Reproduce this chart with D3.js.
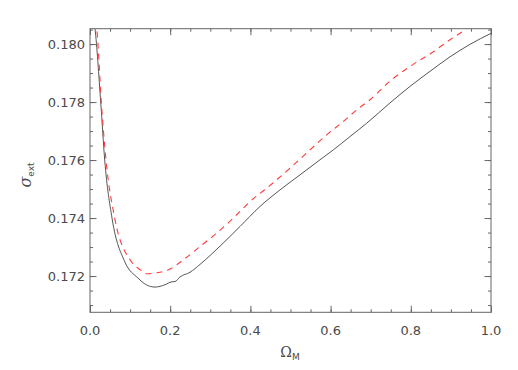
<!DOCTYPE html>
<html><head><meta charset="utf-8">
<script src="https://cdn.jsdelivr.net/npm/d3@7"></script>
<style>body{margin:0;background:#fff}svg{display:block}text{font-family:"DejaVu Sans",sans-serif;fill:#4a4a4a}</style>
</head><body><svg id="c" width="518" height="370"></svg>
<script>
const xTicks = [0.0, 0.2, 0.4, 0.6, 0.8, 1.0];
const xTickLabels = ["0.0", "0.2", "0.4", "0.6", "0.8", "1.0"];
const yTicks = [0.172, 0.174, 0.176, 0.178, 0.180];
const yTickLabels = ["0.172", "0.174", "0.176", "0.178", "0.180"];
const xMinor = d3.range(0, 1.0001, 0.05);
const yMinor = d3.range(0.1710, 0.18051, 0.0005);

const solidX = [0.010, 0.0125, 0.0267, 0.0367, 0.0549, 0.0865, 0.1197, 0.1404, 0.1621, 0.1870, 0.2037, 0.2120, 0.2244, 0.2494, 0.2743, 0.3035, 0.3242, 0.3741, 0.4239, 0.4738, 0.5237, 0.5736, 0.6067, 0.6484, 0.6900, 0.7481, 0.7980, 0.8479, 0.8978, 0.9476, 1.0];
const solidY = [0.1808, 0.18053, 0.1780, 0.1760, 0.1740, 0.17250, 0.17193, 0.17170, 0.17162, 0.17170, 0.17180, 0.17181, 0.17197, 0.17213, 0.17240, 0.17276, 0.17303, 0.17371, 0.17440, 0.17497, 0.17549, 0.17601, 0.17635, 0.17681, 0.17727, 0.17797, 0.17854, 0.17906, 0.17956, 0.17999, 0.18037];
const dashX = [0.013, 0.0167, 0.0282, 0.0399, 0.0616, 0.1030, 0.1247, 0.1414, 0.1746, 0.1995, 0.2327, 0.2743, 0.3160, 0.3574, 0.3990, 0.4406, 0.4988, 0.5486, 0.5903, 0.6317, 0.6651, 0.6983, 0.7481, 0.7980, 0.8479, 0.8978, 0.9394, 0.97];
const dashY = [0.1808, 0.18053, 0.1780, 0.1760, 0.1740, 0.17250, 0.17222, 0.17208, 0.17213, 0.17224, 0.17256, 0.17302, 0.17348, 0.17400, 0.17457, 0.17503, 0.17572, 0.17635, 0.17687, 0.17733, 0.17773, 0.17808, 0.17872, 0.17923, 0.17966, 0.18015, 0.18055, 0.1810];

const L = 90, R = 491, T = 28.7, B = 312.3;
const x = d3.scaleLinear().domain([0, 1]).range([L, R]);
const y = d3.scaleLinear().domain([0.17075, 0.18053]).range([B, T]);
const svg = d3.select("#c");
const axisCol = "#666";

svg.append("defs").append("clipPath").attr("id", "clip")
  .append("rect").attr("x", L).attr("y", T).attr("width", R - L).attr("height", B - T);

const g = svg.append("g").attr("clip-path", "url(#clip)");
const line = d3.line().x(d => x(d[0])).y(d => y(d[1])).curve(d3.curveMonotoneX);
g.append("path").datum(solidX.map((v, i) => [v, solidY[i]]))
  .attr("d", line).attr("fill", "none").attr("stroke", "#555").attr("stroke-width", 1);
g.append("path").datum(dashX.map((v, i) => [v, dashY[i]]))
  .attr("d", line).attr("fill", "none").attr("stroke", "#ff3b3b").attr("stroke-width", 1.1)
  .attr("stroke-dasharray", "6,5");

// frame
svg.append("rect").attr("x", L).attr("y", T).attr("width", R - L).attr("height", B - T)
  .attr("fill", "none").attr("stroke", axisCol).attr("stroke-width", 1);

function ticks(axisGen, transform, size, vals) {
  const a = svg.append("g").attr("transform", transform)
    .call(axisGen.tickValues(vals).tickSize(size).tickFormat(""));
  a.select(".domain").remove();
  a.selectAll("line").attr("stroke", axisCol);
}
ticks(d3.axisBottom(x), `translate(0,${B})`, -3, xMinor);
ticks(d3.axisBottom(x), `translate(0,${B})`, -6.5, xTicks);
ticks(d3.axisTop(x), `translate(0,${T})`, -3, xMinor);
ticks(d3.axisTop(x), `translate(0,${T})`, -6.5, xTicks);
ticks(d3.axisLeft(y), `translate(${L},0)`, -3, yMinor);
ticks(d3.axisLeft(y), `translate(${L},0)`, -6.5, yTicks);
ticks(d3.axisRight(y), `translate(${R},0)`, -3, yMinor);
ticks(d3.axisRight(y), `translate(${R},0)`, -6.5, yTicks);

// labels
svg.append("g").selectAll("text").data(xTicks).join("text")
  .attr("x", d => x(d)).attr("y", 335).attr("text-anchor", "middle")
  .attr("font-size", 13).text((d, i) => xTickLabels[i]);
svg.append("g").selectAll("text").data(yTicks).join("text")
  .attr("x", 85).attr("y", d => y(d) + 4.8).attr("text-anchor", "end")
  .attr("font-size", 13).text((d, i) => yTickLabels[i]);

const xl = svg.append("text").attr("x", 290).attr("y", 357).attr("text-anchor", "middle").attr("font-size", 14);
xl.append("tspan").attr("font-family", "DejaVu Serif").text("Ω");
xl.append("tspan").attr("font-size", 9).attr("dy", 3).text("M");

const yl = svg.append("text").attr("transform", "translate(31,175) rotate(-90)").attr("text-anchor", "middle").attr("font-size", 16);
yl.append("tspan").attr("font-family", "DejaVu Serif").attr("font-style", "italic").text("σ");
yl.append("tspan").attr("font-size", 9).attr("dy", 3).text("ext");
</script></body></html>
